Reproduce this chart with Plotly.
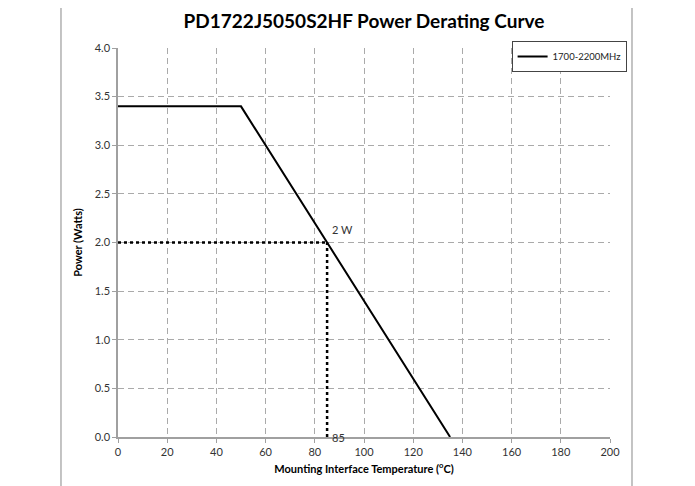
import plotly.graph_objects as go

temp = [0, 50, 135]
power = [3.4, 3.4, 0.0]
series_name = "1700-2200MHz"
mark_temp = 85
mark_power = 2.0
x_ticks = [0, 20, 40, 60, 80, 100, 120, 140, 160, 180, 200]
y_ticks = [0.0, 0.5, 1.0, 1.5, 2.0, 2.5, 3.0, 3.5, 4.0]

FONT = "Lato"
fig = go.Figure()
fig.add_trace(go.Scatter(x=[0, mark_temp], y=[mark_power, mark_power], mode="lines",
                         line=dict(color="black", width=2.5, dash="dot"), showlegend=False))
fig.add_trace(go.Scatter(x=[mark_temp, mark_temp], y=[0, mark_power], mode="lines",
                         line=dict(color="black", width=2.5, dash="dot"), showlegend=False))
fig.add_trace(go.Scatter(x=temp, y=power, mode="lines", name=series_name,
                         line=dict(color="black", width=2)))

fig.add_annotation(x=mark_temp + 1, y=mark_power + 0.05, text="2 W", showarrow=False,
                   xanchor="left", yanchor="bottom", font=dict(family=FONT, size=11, color="#333"))
fig.add_annotation(x=mark_temp + 1, y=0, text=str(mark_temp), showarrow=False,
                   xanchor="left", yanchor="middle", font=dict(family=FONT, size=11, color="#333"))

# outer chart-area border lines
for xp in [-0.1159, 1.0447]:
    fig.add_shape(type="line", xref="paper", yref="paper", x0=xp, x1=xp, y0=-0.15, y1=1.13,
                  line=dict(color="#b0b0b0", width=1.5))

fig.update_layout(
    width=695, height=486,
    margin=dict(l=110, r=93, t=40, b=57),
    paper_bgcolor="white", plot_bgcolor="white",
    title=dict(text="<b>PD1722J5050S2HF Power Derating Curve</b>", x=0.5, xref="paper",
               y=0.972, yanchor="middle", font=dict(family=FONT, size=19, color="black")),
    legend=dict(x=0.80, y=1.018, xanchor="left", yanchor="top", bordercolor="#444", borderwidth=1,
                bgcolor="white", itemwidth=30, tracegroupgap=0,
                font=dict(family=FONT, size=9.5, color="#222")),
    showlegend=True,
)
fig.update_xaxes(range=[0, 200], tickvals=x_ticks, ticktext=[str(v) for v in x_ticks],
                 showgrid=True, gridcolor="#aaaaaa", griddash="6px,4px", gridwidth=1,
                 showline=True, linecolor="#a0a0a0", linewidth=1.5, zeroline=False,
                 ticks="outside", ticklen=4, tickcolor="#a0a0a0",
                 tickfont=dict(family=FONT, size=11, color="#333"),
                 title=dict(text="<b>Mounting Interface Temperature (<sup>o</sup>C)</b>",
                            font=dict(family=FONT, size=11, color="black"), standoff=8))
fig.update_yaxes(range=[0, 4], tickvals=y_ticks, ticktext=[f"{v:.1f}" for v in y_ticks],
                 showgrid=True, gridcolor="#aaaaaa", griddash="6px,4px", gridwidth=1,
                 showline=True, linecolor="#a0a0a0", linewidth=1.5, zeroline=False,
                 ticks="outside", ticklen=4, tickcolor="#a0a0a0",
                 tickfont=dict(family=FONT, size=11, color="#333"),
                 title=dict(text="<b>Power (Watts)</b>",
                            font=dict(family=FONT, size=11, color="black"), standoff=10))
fig.write_html("out.html")
